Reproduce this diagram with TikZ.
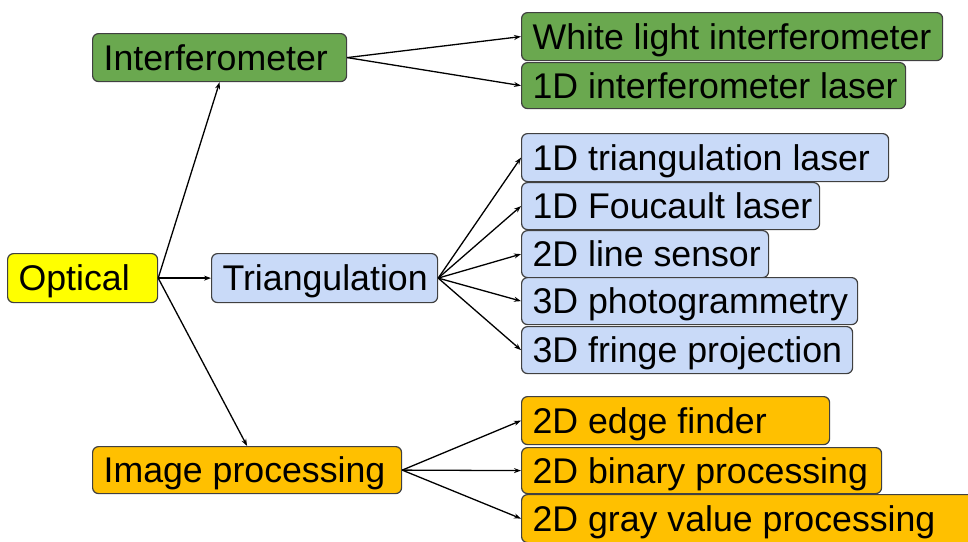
\documentclass[tikz,border=0pt]{standalone}
\usepackage{fontspec}
\setmainfont{Liberation Sans}
\usetikzlibrary{arrows.meta}
\definecolor{grn}{HTML}{6AA84F}
\definecolor{lblue}{HTML}{C9DAF8}
\definecolor{ylw}{HTML}{FFFF00}
\definecolor{orng}{HTML}{FFC000}
\definecolor{edge}{HTML}{404040}
% label set flush left in a field of fixed width (never wraps)
\newcommand\boxlabel[2]{\makebox[#1pt][l]{#2}}
\begin{document}
\begin{tikzpicture}[x=1pt,y=-1pt,
  box/.style={draw=edge, line width=1.2pt, rounded corners=6pt, anchor=north west,
    inner xsep=11pt, inner ysep=0pt, text height=25.5pt, text depth=0pt,
    font=\fontsize{35.7}{40}\selectfont},
  arr/.style={-{Stealth[length=7pt,width=5pt]}, line width=1.3pt}]
\useasboundingbox (0,0) rectangle (968,541);
\clip (0,0) rectangle (968,541);

% level 0 and level 1
\node[box, fill=ylw,   minimum height=49pt] (opt) at (7,253)   {\boxlabel{128}{Optical}};
\node[box, fill=grn,   minimum height=48pt] (int) at (92,33)   {\boxlabel{232}{Interferometer}};
\node[box, fill=lblue, minimum height=49pt] (tri) at (211,253) {\boxlabel{204}{Triangulation}};
\node[box, fill=orng,  minimum height=47pt] (img) at (92,446)  {\boxlabel{287}{Image processing}};

% interferometer branch
\node[box, fill=grn, minimum height=48pt] (wli) at (521,12) {\boxlabel{399}{White light interferometer}};
\node[box, fill=grn, minimum height=46pt] (il)  at (521,62) {\boxlabel{362}{1D interferometer laser}};

% triangulation branch
\node[box, fill=lblue, minimum height=48pt] (tl) at (521,133) {\boxlabel{345}{1D triangulation laser}};
\node[box, fill=lblue, minimum height=47pt] (fl) at (521,182) {\boxlabel{276}{1D Foucault laser}};
\node[box, fill=lblue, minimum height=47pt] (ls) at (521,230) {\boxlabel{225}{2D line sensor}};
\node[box, fill=lblue, minimum height=47pt] (pg) at (521,277) {\boxlabel{314}{3D photogrammetry}};
\node[box, fill=lblue, minimum height=47pt] (fp) at (521,326) {\boxlabel{309}{3D fringe projection}};

% image processing branch
\node[box, fill=orng, minimum height=48pt] (ef) at (521,396) {\boxlabel{286}{2D edge finder}};
\node[box, fill=orng, minimum height=46pt] (bp) at (521,447) {\boxlabel{338}{2D binary processing}};
\node[box, fill=orng, minimum height=48pt] (gp) at (521,494) {\boxlabel{448}{2D gray value processing}};

% connectors
\draw[arr] (opt.east) -- (int.south);
\draw[arr] (opt.east) -- (tri.west);
\draw[arr] (opt.east) -- (img.north);

\draw[arr] (int.east) -- (wli.west);
\draw[arr] (int.east) -- (il.west);

\draw[arr] (tri.east) -- (tl.west);
\draw[arr] (tri.east) -- (fl.west);
\draw[arr] (tri.east) -- (ls.west);
\draw[arr] (tri.east) -- (pg.west);
\draw[arr] (tri.east) -- (fp.west);

\draw[arr] (img.east) -- (ef.west);
\draw[arr] (img.east) -- (bp.west);
\draw[arr] (img.east) -- (gp.west);
\end{tikzpicture}
\end{document}
